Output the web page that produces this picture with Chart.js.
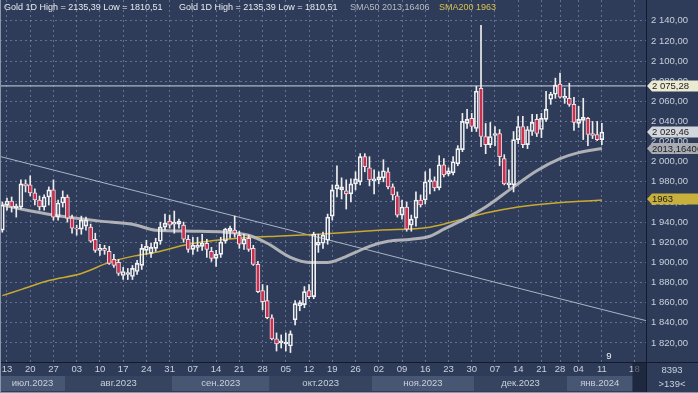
<!DOCTYPE html>
<html>
<head>
<meta charset="utf-8">
<script src="https://cdn.jsdelivr.net/npm/chart.js@4.4.0/dist/chart.umd.min.js"></script>
<style>
  html, body { margin: 0; padding: 0; background: #2e3c5a; }
  canvas { display: block; }
</style>
</head>
<body>
<canvas id="goldChart" width="698" height="393"></canvas>
<script>
// daily candles, index 0 = 12 Jul 2023 ... 129 = 11 Jan 2024
const opens = [1932,1957,1961,1954,1955,1978,1977,1969,1962,1955,
  1965,1972,1945,1959,1965,1944,1934,1933,1936,1935,
  1923,1912,1914,1911,1903,1900,1887,1888,1886,1891,
  1897,1912,1909,1914,1921,1935,1941,1938,1938,1937,
  1923,1913,1915,1916,1919,1911,1904,1908,1921,1931,
  1932,1927,1918,1924,1914,1898,1872,1862,1845,1824,
  1820,1819,1817,1843,1857,1858,1872,1866,1917,1919,
  1922,1946,1973,1972,1971,1968,1978,1980,2005,1994,
  1981,1982,1984,1990,1975,1966,1947,1955,1937,1944,
  1962,1962,1980,1981,1974,1997,1988,1989,1998,2012,
  2038,2043,2033,2073,2025,2017,2026,2028,2003,1977,
  1977,2022,2035,2017,2030,2042,2032,2042,2062,2067,
  2077,2063,2063,2057,2038,2041,2043,2028,2027,2022];
const highs = [1960,1964,1965,1958,1982,1982,1986,1973,1966,1967,
  1975,1982,1962,1971,1967,1947,1937,1946,1945,1938,
  1929,1918,1917,1916,1908,1903,1895,1894,1897,1902,
  1918,1922,1919,1924,1940,1948,1947,1951,1943,1940,
  1927,1925,1925,1928,1923,1915,1912,1925,1934,1936,
  1946,1931,1928,1927,1917,1901,1878,1877,1848,1830,
  1828,1830,1832,1862,1862,1876,1878,1930,1928,1930,
  1948,1977,1996,1984,1982,1983,1990,2008,2008,2005,
  1992,1990,2002,1994,1978,1970,1962,1960,1947,1970,
  1967,1990,1993,1985,2006,2003,1994,2005,2016,2048,
  2052,2048,2075,2135.39,2038,2039,2035,2032,2007,1992,
  2030,2045,2045,2035,2047,2047,2048,2070,2069,2083,
  2088,2073,2078,2064,2055,2063,2044,2040,2040,2038];
const lows = [1930,1952,1950,1945,1953,1970,1966,1957,1952,1952,
  1957,1942,1942,1955,1940,1929,1927,1928,1932,1920,
  1910,1907,1908,1898,1895,1887,1883,1883,1883,1888,
  1893,1908,1905,1911,1918,1932,1934,1929,1934,1920,
  1910,1908,1911,1912,1905,1901,1896,1905,1919,1924,
  1925,1914,1913,1911,1897,1870,1853,1844,1823,1812,
  1815,1812,1810.51,1838,1852,1855,1864,1864,1910,1914,
  1918,1942,1965,1963,1953,1960,1972,1977,1990,1976,
  1968,1978,1980,1973,1962,1945,1943,1931,1931,1936,
  1955,1958,1968,1971,1972,1985,1986,1987,1996,2010,
  2033,2030,2030,2015,2008,2014,2016,1996,1977,1974,
  1970,2018,2014,2013,2026,2025,2024,2040,2057,2063,
  2063,2058,2055,2031,2034,2022,2016,2023,2021,2017];
const closes = [1957,1961,1955,1956,1978,1976,1969,1962,1955,1965,
  1972,1945,1959,1965,1944,1934,1933,1942,1942,1921,
  1912,1914,1912,1899,1897,1889,1891,1890,1894,1899,
  1914,1916,1915,1920,1935,1939,1937,1940,1941,1923,
  1913,1917,1917,1919,1913,1904,1908,1920,1933,1934,
  1929,1918,1923,1913,1898,1871,1861,1845,1824,1819,
  1822,1821,1829,1859,1860,1871,1866,1928,1920,1927,
  1945,1972,1977,1975,1968,1978,1983,2005,1995,1982,
  1983,1985,1991,1975,1967,1947,1955,1933,1943,1962,
  1957,1980,1982,1974,1997,1987,1991,2000,2013,2040,
  2042,2035,2070,2025,2017,2025,2028,2005,1978,1979,
  2022,2035,2017,2032,2039,2028,2043,2052,2067,2076,
  2064,2065,2057,2039,2042,2044,2027,2026,2022,2029.46];

// moving averages (candle index -> value)
const sma50Idx = [0, 4, 11, 21, 28, 33, 41, 48, 53, 57, 62, 66, 70, 73, 76, 79, 83, 88, 92, 95, 99, 104, 110, 115, 120, 124, 129];
const sma50Val = [1957, 1953, 1947, 1941, 1938, 1932, 1931, 1930, 1927, 1919, 1905, 1900, 1900, 1904, 1910, 1916, 1921, 1923, 1926, 1933, 1942, 1955, 1975, 1991, 2003, 2009, 2013.16];
const sma200Idx = [0, 4, 10, 17, 23, 28, 33, 40, 46, 54, 59, 68, 81, 92, 99, 104, 111, 119, 129];
const sma200Val = [1867, 1873, 1882, 1889, 1900, 1906, 1910, 1918, 1922, 1925, 1926, 1928, 1932, 1935, 1943, 1949, 1955, 1959, 1962];

// drawn lines
const trendStart = 2005.2, trendEnd = 1842.2;
const levelLine = 2075.28;

// axis labels
const tickIdx = [1, 6, 11, 16, 21, 26, 31, 36, 41, 46, 51, 56, 61, 66, 71, 76, 81, 86, 91, 96, 101, 106, 111, 116, 120, 124, 129, 136];
const tickLabels = ['13','20','27','03','10','17','24','31','07','14','21','28','05','12','19','26','02','09','16','23','30','07','14','21','28','04','11','18'];
const monthNames = ['июл.2023','авг.2023','сен.2023','окт.2023','ноя.2023','дек.2023','янв.2024'];
const monthStart = [-0.5, 13.5, 36.5, 57.5, 79.5, 101.5, 121.5, 135.6];
const priceTicks = [1820,1840,1860,1880,1900,1920,1940,1960,1980,2000,2020,2040,2060,2080,2100,2120,2140];

const BG = '#2e3c5a';
const TXT = '#c9d0dc';
const FONT = '"Liberation Sans", Arial, sans-serif';

function fmtPrice(v) {
  const parts = v.toFixed(2).split('.');
  return parts[0].replace(/\B(?=(\d{3})+(?!\d))/g, ' ') + ',' + parts[1];
}

const idx = opens.map((_, i) => i);
const bodies = idx.map(i => ({ x: i, y: [opens[i], closes[i]] }));
const upperWicks = idx.map(i => ({ x: i, y: [Math.max(opens[i], closes[i]), highs[i]] }));
const lowerWicks = idx.map(i => ({ x: i, y: [lows[i], Math.min(opens[i], closes[i])] }));
const isBear = idx.map(i => closes[i] < opens[i]);

const bgPlugin = {
  id: 'bg',
  beforeDraw(chart) {
    const c = chart.ctx;
    c.save();
    c.fillStyle = BG;
    c.fillRect(0, 0, chart.width, chart.height);
    c.restore();
  }
};

function tag(c, y, text, fill, color) {
  c.fillStyle = fill;
  c.beginPath();
  c.moveTo(647, y);
  c.lineTo(652, y - 5.5);
  c.lineTo(698, y - 5.5);
  c.lineTo(698, y + 5.5);
  c.lineTo(652, y + 5.5);
  c.closePath();
  c.fill();
  c.fillStyle = color;
  c.textAlign = 'left';
  c.textBaseline = 'middle';
  c.fillText(text, 652, y + 0.5);
}

const overlayPlugin = {
  id: 'overlay',
  afterDraw(chart) {
    const c = chart.ctx;
    const xs = chart.scales.x, ys = chart.scales.y;
    const area = chart.chartArea;
    c.save();
    c.font = '9.5px ' + FONT;

    // month bands
    for (let m = 0; m < monthNames.length; m++) {
      const x0 = Math.max(0, xs.getPixelForValue(monthStart[m]));
      const x1 = xs.getPixelForValue(monthStart[m + 1]);
      c.fillStyle = m % 2 === 0 ? '#475672' : '#36445f';
      c.fillRect(x0, 376, x1 - x0, 15);
      c.fillStyle = TXT;
      c.textAlign = 'center';
      c.textBaseline = 'middle';
      c.fillText(monthNames[m], (x0 + x1) / 2, 383.5);
    }
    const xEnd = xs.getPixelForValue(135.6);
    c.fillStyle = 'rgba(20,28,46,0.6)';
    c.fillRect(xEnd, 362, area.right - xEnd, 31);

    // separators
    c.strokeStyle = '#121a2b';
    c.lineWidth = 1;
    c.beginPath();
    c.moveTo(area.right + 0.5, 0); c.lineTo(area.right + 0.5, 393);
    c.moveTo(0, area.bottom + 0.5); c.lineTo(698, area.bottom + 0.5);
    c.stroke();
    c.strokeStyle = '#8c96aa';
    c.beginPath();
    c.moveTo(0.5, 0); c.lineTo(0.5, 393);
    c.moveTo(0, 392.5); c.lineTo(698, 392.5);
    c.stroke();

    // bottom-right box
    c.fillStyle = TXT;
    c.textAlign = 'center';
    c.textBaseline = 'middle';
    c.fillText('8393', 672, 370);
    c.fillText('>139<', 672, 384);

    // marker
    c.fillStyle = '#f0f0f0';
    c.fillText('9', xs.getPixelForValue(130.5), 356);

    // price tags
    tag(c, ys.getPixelForValue(levelLine), fmtPrice(levelLine), '#ebead2', '#1c1c1c');
    tag(c, ys.getPixelForValue(1963), '1963', '#c9b03c', '#1c1c1c');
    tag(c, ys.getPixelForValue(2013.16), '2013,16406', '#a9acb3', '#1c1c1c');
    tag(c, ys.getPixelForValue(closes[closes.length - 1]), fmtPrice(closes[closes.length - 1]), '#d3d6dc', '#1c1c1c');

    // header
    c.font = '9px ' + FONT;
    c.textAlign = 'left';
    c.textBaseline = 'middle';
    c.fillStyle = '#e6e9ee';
    const hdr = 'Gold 1D High = ' + fmtPrice(Math.max(...highs)).replace(' ', '') + ' Low = ' + fmtPrice(Math.min(...lows)).replace(' ', '');
    c.fillText(hdr, 4, 8);
    c.fillText(hdr, 179, 8);
    c.fillStyle = '#b9bcc2';
    c.fillText('SMA50 2013,16406', 350, 8);
    c.fillStyle = '#d8c24e';
    c.fillText('SMA200 1963', 439, 8);
    c.restore();
  }
};

Chart.defaults.font.family = FONT;
Chart.defaults.font.size = 9.5;
Chart.defaults.color = TXT;

new Chart(document.getElementById('goldChart').getContext('2d'), {
  type: 'bar',
  data: {
    datasets: [
      {
        type: 'line', order: 6,
        data: [{ x: -0.5, y: levelLine }, { x: 138.5, y: levelLine }],
        borderColor: '#cfd4dd', borderWidth: 1, pointRadius: 0
      },
      {
        type: 'line', order: 6,
        data: [{ x: -0.5, y: trendStart }, { x: 138.5, y: trendEnd }],
        borderColor: '#aab4c6', borderWidth: 1, pointRadius: 0
      },
      {
        type: 'line', order: 5,
        data: sma200Idx.map((x, k) => ({ x, y: sma200Val[k] })),
        borderColor: '#c9a930', borderWidth: 1.5, pointRadius: 0,
        tension: 0.4, cubicInterpolationMode: 'monotone'
      },
      {
        type: 'line', order: 4,
        data: sma50Idx.map((x, k) => ({ x, y: sma50Val[k] })),
        borderColor: 'rgba(190,190,192,0.9)', borderWidth: 3, pointRadius: 0,
        tension: 0.4, cubicInterpolationMode: 'monotone'
      },
      {
        order: 3, grouped: false, maxBarThickness: 1,
        barPercentage: 1, categoryPercentage: 1,
        data: upperWicks, backgroundColor: '#eeeeee', borderWidth: 0
      },
      {
        order: 3, grouped: false, maxBarThickness: 1,
        barPercentage: 1, categoryPercentage: 1,
        data: lowerWicks, backgroundColor: '#eeeeee', borderWidth: 0
      },
      {
        order: 2, grouped: false, maxBarThickness: 4,
        barPercentage: 1, categoryPercentage: 1,
        data: bodies,
        backgroundColor: idx.map(i => isBear[i] ? '#c8304f' : 'rgba(0,0,0,0)'),
        borderColor: idx.map(i => isBear[i] ? '#f2dce3' : '#f2f2f2'),
        borderWidth: 1, borderSkipped: false
      }
    ]
  },
  options: {
    responsive: false,
    animation: false,
    layout: { padding: 0 },
    plugins: { legend: { display: false }, tooltip: { enabled: false } },
    scales: {
      x: {
        type: 'linear', position: 'bottom', min: -0.5, max: 138.5, offset: false,
        afterBuildTicks: s => { s.ticks = tickIdx.map(v => ({ value: v })); },
        afterFit: s => { s.height = 31; s.paddingLeft = 0; s.paddingRight = 0; },
        ticks: {
          autoSkip: false, maxRotation: 0, padding: 2, color: TXT,
          callback: (v, i) => tickLabels[i]
        },
        grid: { offset: false, color: 'rgba(150,165,195,0.5)', drawTicks: false, lineWidth: 1 },
        border: { display: false, dash: [2, 3] }
      },
      y: {
        type: 'linear', position: 'right', min: 1801.1, max: 2160.6,
        afterBuildTicks: s => { s.ticks = priceTicks.map(v => ({ value: v })); },
        afterFit: s => { s.width = 52; s.paddingTop = 0; s.paddingBottom = 0; },
        ticks: { padding: 5, color: TXT, callback: v => fmtPrice(v) },
        grid: { color: 'rgba(150,165,195,0.5)', drawTicks: false, lineWidth: 1 },
        border: { display: false, dash: [2, 3] }
      }
    }
  },
  plugins: [bgPlugin, overlayPlugin]
});
</script>
</body>
</html>
